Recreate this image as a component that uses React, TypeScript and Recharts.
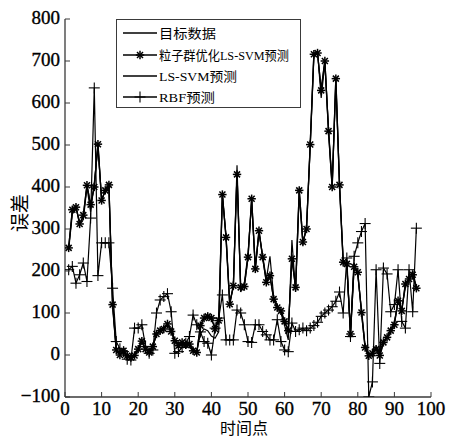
import { LineChart, Line, XAxis, YAxis, Legend } from "recharts";

// 时间点 1..96
const timePoints = [
  1, 2, 3, 4, 5, 6, 7, 8, 9, 10, 11, 12, 13, 14, 15, 16, 17, 18, 19, 20, 21, 22, 23, 24,
  25, 26, 27, 28, 29, 30, 31, 32, 33, 34, 35, 36, 37, 38, 39, 40, 41, 42, 43, 44, 45, 46, 47, 48,
  49, 50, 51, 52, 53, 54, 55, 56, 57, 58, 59, 60, 61, 62, 63, 64, 65, 66, 67, 68, 69, 70, 71, 72,
  73, 74, 75, 76, 77, 78, 79, 80, 81, 82, 83, 84, 85, 86, 87, 88, 89, 90, 91, 92, 93, 94, 95, 96,
];

// 目标数据
const target = [
  257, 343, 355, 310, 330, 406, 356, 402, 505, 366, 394, 403, 117, 10, 2, 8, -3, -4, -3, 12, 35, 12, 8, 18,
  52, 56, 64, 72, 58, 32, 24, 28, 26, 24, 12, 4, 72, 86, 94, 86, 64, 80, 385, 278, 119, 167, 432, 159,
  165, 231, 374, 203, 298, 231, 175, 187, 135, 111, 107, 78, 60, 231, 159, 394, 267, 302, 503, 718, 718, 632, 702, 531,
  398, 660, 403, 223, 215, 48, 212, 195, 103, 16, -4, 2, 16, -3, 28, 44, 56, 74, 131, 103, 171, 179, 193, 157,
];

// 粒子群优化LS-SVM预测
const psoLssvm = [
  255, 346, 352, 312, 333, 404, 358, 400, 502, 368, 392, 405, 120, 12, 0, 10, -2, -6, -1, 14, 33, 14, 6, 20,
  50, 58, 62, 74, 56, 34, 22, 30, 24, 26, 10, 6, 70, 88, 92, 88, 62, 82, 382, 280, 121, 165, 430, 161,
  163, 233, 372, 205, 296, 233, 173, 189, 133, 113, 105, 80, 58, 229, 161, 392, 269, 300, 501, 716, 719, 630, 700, 533,
  400, 658, 405, 221, 217, 50, 210, 197, 101, 18, -2, 4, 14, -1, 30, 42, 58, 72, 129, 105, 169, 181, 191, 159,
];

// LS-SVM预测
const lssvm = [
  250, 335, 350, 318, 322, 400, 340, 410, 495, 372, 388, 398, 125, 14, 5, 4, 0, -6, 2, 16, 30, 16, 10, 22,
  48, 58, 68, 70, 62, 36, 28, 24, 30, 20, 16, 8, 50, 62, 58, 45, 40, 55, 378, 285, 128, 160, 452, 150,
  172, 240, 365, 210, 290, 238, 180, 235, 140, 118, 100, 70, 36, 274, 150, 385, 262, 310, 495, 710, 722, 612, 695, 540,
  405, 650, 410, 228, 208, 60, 220, 188, 110, 22, 4, -2, 20, 6, 34, 40, 60, 80, 125, 110, 160, 185, 200, 162,
];

// RBF预测
const rbf = [
  203, 211, 171, 191, 219, 175, 326, 636, 189, 267, 267, 267, 159, 32, 15, 8, -10, -12, 64, 64, 72, 20, 4, 12,
  100, 131, 139, 146, 103, 4, 8, 18, 28, 44, 95, 72, 55, 32, 28, 0, 64, 88, 143, 36, 36, 36, 107, 100,
  72, 32, 30, 72, 72, 56, 48, 36, 36, 84, 32, 12, 8, 76, 56, 60, 64, 58, 64, 70, 78, 92, 100, 107,
  115, 128, 150, 100, 231, 44, 235, 267, 294, 313, -100, -64, 203, -20, 207, 193, 103, 120, 203, 80, 64, 203, 103, 302,
];

const xTicks = [0, 10, 20, 30, 40, 50, 60, 70, 80, 90, 100];
const yTicks = [-100, 0, 100, 200, 300, 400, 500, 600, 700, 800];
const seriesNames = ["目标数据", "粒子群优化LS-SVM预测", "LS-SVM预测", "RBF预测"];

const data = timePoints.map((t, i) => ({
  t,
  target: target[i],
  pso: psoLssvm[i],
  lssvm: lssvm[i],
  rbf: rbf[i],
}));

const SERIF = "'Liberation Serif', 'Times New Roman', 'Noto Sans CJK SC', serif";
const AXIS = "#3a3a3a";

function StarDot(p: any) {
  const { cx, cy, index } = p;
  if (cx == null || cy == null) return <g key={`s${index}`} />;
  const r = 4.2;
  const d = 3;
  return (
    <g key={`s${index}`} stroke="#000" strokeWidth={1.5}>
      <line x1={cx - r} y1={cy} x2={cx + r} y2={cy} />
      <line x1={cx} y1={cy - r} x2={cx} y2={cy + r} />
      <line x1={cx - d} y1={cy - d} x2={cx + d} y2={cy + d} />
      <line x1={cx - d} y1={cy + d} x2={cx + d} y2={cy - d} />
    </g>
  );
}

function PlusDot(p: any) {
  const { cx, cy, index } = p;
  if (cx == null || cy == null) return <g key={`p${index}`} />;
  const r = 5.5;
  return (
    <g key={`p${index}`} stroke="#000" strokeWidth={1.1}>
      <line x1={cx - r} y1={cy} x2={cx + r} y2={cy} />
      <line x1={cx} y1={cy - r} x2={cx} y2={cy + r} />
    </g>
  );
}

const fmt = (v: number) => (v < 0 ? `\u2212${-v}` : `${v}`);

const bottomTick = (p: any) => (
  <g key={`bx${p.index}`}>
    <line x1={p.x} y1={p.y} x2={p.x} y2={p.y - 5} stroke={AXIS} />
    <text
      x={p.x}
      y={p.y + 18}
      textAnchor="middle"
      fontSize={19}
      fontFamily={SERIF}
      fill="#000"
      stroke="#000"
      strokeWidth={0.35}
    >
      {p.payload.value}
    </text>
  </g>
);

const topTick = (p: any) => (
  <line key={`tx${p.index}`} x1={p.x} y1={p.y} x2={p.x} y2={p.y + 5} stroke={AXIS} />
);

const leftTick = (p: any) => (
  <g key={`ly${p.index}`}>
    <line x1={p.x} y1={p.y} x2={p.x + 5} y2={p.y} stroke={AXIS} />
    <text
      x={p.x - 5}
      y={p.y + 5}
      textAnchor="end"
      fontSize={19}
      fontFamily={SERIF}
      fill="#000"
      stroke="#000"
      strokeWidth={0.35}
    >
      {fmt(p.payload.value)}
    </text>
  </g>
);

const rightTick = (p: any) => (
  <line key={`ry${p.index}`} x1={p.x} y1={p.y} x2={p.x - 5} y2={p.y} stroke={AXIS} />
);

const xLabel = () => (
  <text x={244} y={434} textAnchor="middle" fontSize={16} fontFamily={SERIF} fill="#000">
    时间点
  </text>
);

const yLabel = () => (
  <text
    x={20}
    y={213}
    textAnchor="middle"
    dominantBaseline="central"
    fontSize={19}
    fontFamily={SERIF}
    fill="#000"
    transform="rotate(-90 20 213)"
  >
    误差
  </text>
);

const legendRows = [
  { name: seriesNames[0], marker: "none", len: 57 },
  { name: seriesNames[1], marker: "star", len: 130 },
  { name: seriesNames[2], marker: "none", len: 78 },
  { name: seriesNames[3], marker: "plus", len: 56 },
];

function LegendBox() {
  const rowY = [13, 35, 56, 77];
  return (
    <div
      style={{
        width: 185,
        height: 89,
        boxSizing: "border-box",
        border: `1.3px solid ${AXIS}`,
        background: "#fff",
      }}
    >
      <svg width={183} height={87} style={{ display: "block", overflow: "visible" }}>
        {legendRows.map((row, i) => {
          const y = rowY[i];
          return (
            <g key={row.name}>
              <line x1={6} y1={y} x2={40} y2={y} stroke="#000" strokeWidth={1.3} />
              {row.marker === "star" && <StarDot cx={23} cy={y} index={i} />}
              {row.marker === "plus" && <PlusDot cx={23} cy={y} index={i} />}
              <text
                x={42}
                y={y + 5}
                fontSize={13}
                fontFamily={SERIF}
                fill="#000"
                textLength={row.len}
                lengthAdjust="spacingAndGlyphs"
              >
                {row.name}
              </text>
            </g>
          );
        })}
      </svg>
    </div>
  );
}

export default function App() {
  return (
    <div style={{ position: "absolute", left: 0, top: 0, background: "#fff" }}>
      <LineChart width={451} height={437} data={data} margin={{ top: 19, right: 20, bottom: 0, left: 0 }}>
        <XAxis
          dataKey="t"
          type="number"
          domain={[0, 100]}
          ticks={xTicks}
          allowDataOverflow
          height={40}
          tickSize={0}
          tickMargin={0}
          tickLine={false}
          stroke={AXIS}
          strokeWidth={1.3}
          tick={bottomTick}
          interval={0}
          label={xLabel}
        />
        <XAxis
          xAxisId="top"
          dataKey="t"
          type="number"
          orientation="top"
          domain={[0, 100]}
          ticks={xTicks}
          allowDataOverflow
          height={0}
          tickSize={0}
          tickMargin={0}
          tickLine={false}
          stroke={AXIS}
          strokeWidth={1.3}
          tick={topTick}
          interval={0}
        />
        <YAxis
          type="number"
          domain={[-100, 800]}
          ticks={yTicks}
          allowDataOverflow
          width={65}
          tickSize={0}
          tickMargin={0}
          tickLine={false}
          stroke={AXIS}
          strokeWidth={1.3}
          tick={leftTick}
          interval={0}
          label={yLabel}
        />
        <YAxis
          yAxisId="right"
          type="number"
          orientation="right"
          domain={[-100, 800]}
          ticks={yTicks}
          allowDataOverflow
          width={0}
          tickSize={0}
          tickMargin={0}
          tickLine={false}
          stroke={AXIS}
          strokeWidth={1.3}
          tick={rightTick}
          interval={0}
        />
        <Legend
          layout="vertical"
          align="center"
          verticalAlign="middle"
          wrapperStyle={{ left: 116, top: 19, width: 185, height: 89 }}
          content={() => <LegendBox />}
        />
        <Line
          xAxisId="top"
          yAxisId="right"
          dataKey="target"
          stroke="none"
          dot={false}
          legendType="none"
          isAnimationActive={false}
        />
        <Line
          name={seriesNames[3]}
          dataKey="rbf"
          stroke="#000"
          strokeWidth={1.2}
          dot={PlusDot}
          isAnimationActive={false}
        />
        <Line
          name={seriesNames[2]}
          dataKey="lssvm"
          stroke="#000"
          strokeWidth={1.2}
          dot={false}
          isAnimationActive={false}
        />
        <Line
          name={seriesNames[0]}
          dataKey="target"
          stroke="#000"
          strokeWidth={1.3}
          dot={false}
          isAnimationActive={false}
        />
        <Line
          name={seriesNames[1]}
          dataKey="pso"
          stroke="#000"
          strokeWidth={1.3}
          dot={StarDot}
          isAnimationActive={false}
        />
      </LineChart>
    </div>
  );
}
